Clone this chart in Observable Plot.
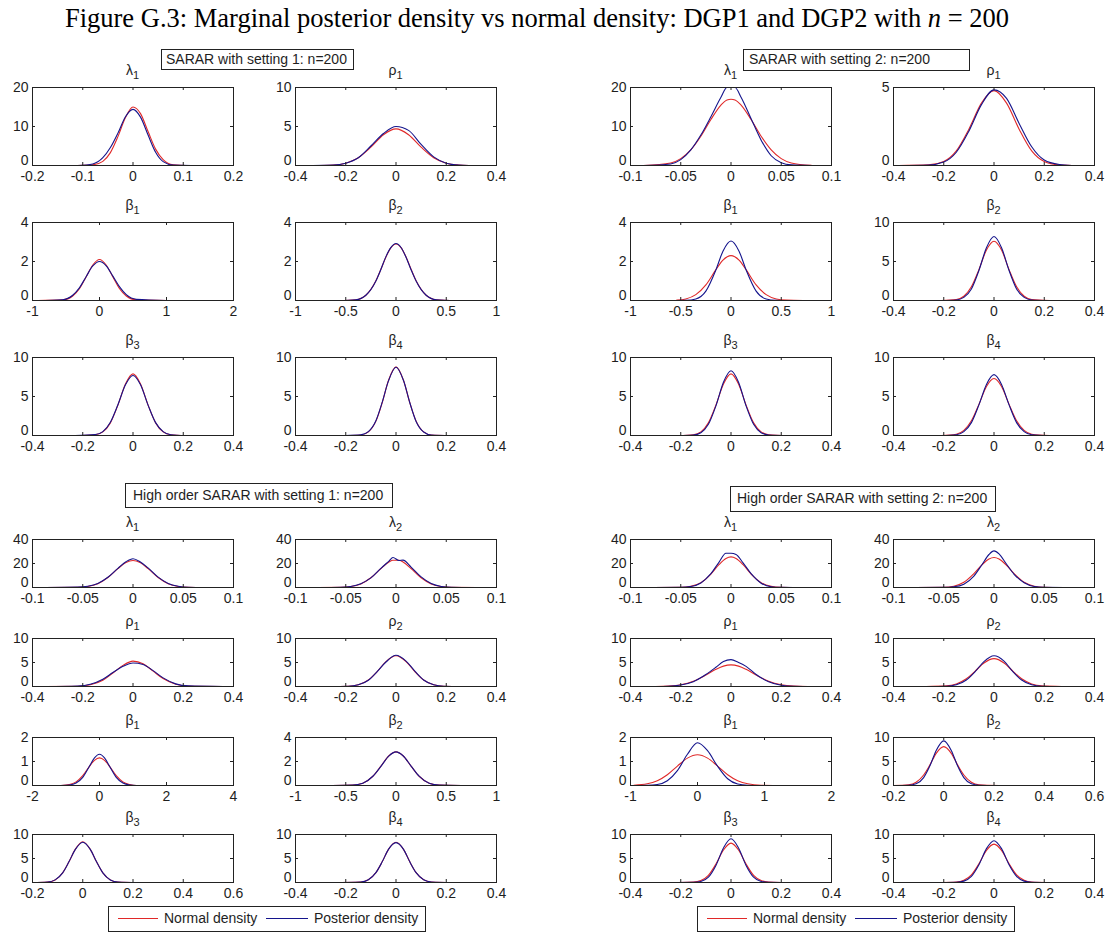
<!DOCTYPE html>
<html><head><meta charset="utf-8">
<script src="https://cdn.jsdelivr.net/npm/d3@7"></script>
<script src="https://cdn.jsdelivr.net/npm/@observablehq/plot@0.6"></script>
<style>
body{margin:0;background:#fff;}
#page{position:relative;width:1109px;height:934px;overflow:hidden;background:#fff;}
.panel{position:absolute;}
.panel svg{overflow:visible;background:none;}
#overlay{position:absolute;left:0;top:0;}
</style></head><body><div id="page"></div>
<script>
// ---------- DATA: rows are [x, normal density, posterior density] ----------
const sarar1_lambda1 = [[-0.11,0,0],[-0.08,0.15,0.4],[-0.06,1.06,2.0],[-0.045,3.3,4.6],[-0.03,7.4,8.3],[-0.015,12.3,12.5],[0,15,14.4],[0.015,13.3,12.4],[0.03,8.7,7.8],[0.045,4.2,3.4],[0.06,1.5,1.0],[0.08,0.2,0.1],[0.116,0,0]];
const sarar1_rho1 = [[-0.33,0,0],[-0.25,0.06,0.05],[-0.2,0.3,0.3],[-0.15,1.0,1.0],[-0.1,2.35,2.5],[-0.05,3.95,4.1],[0,4.7,5.0],[0.05,3.95,4.5],[0.1,2.35,2.7],[0.15,1.0,1.1],[0.2,0.3,0.3],[0.25,0.06,0.05],[0.29,0,0]];
const sarar1_beta1 = [[-0.92,0,0],[-0.55,0.03,0.04],[-0.4,0.23,0.27],[-0.3,0.6,0.65],[-0.2,1.21,1.22],[-0.1,1.82,1.77],[0,2.1,2.0],[0.1,1.82,1.78],[0.2,1.21,1.25],[0.3,0.6,0.7],[0.4,0.23,0.3],[0.55,0.03,0.06],[1.0,0,0]];
const sarar1_beta2 = [[-0.57,0,0],[-0.4,0.04,0.04],[-0.3,0.27,0.27],[-0.2,1.01,1.0],[-0.15,1.6,1.6],[-0.1,2.23,2.25],[-0.05,2.71,2.72],[0,2.9,2.92],[0.05,2.71,2.72],[0.1,2.23,2.22],[0.15,1.6,1.58],[0.2,1.01,1.0],[0.3,0.27,0.27],[0.4,0.04,0.04],[0.6,0,0]];
const sarar1_beta3 = [[-0.23,0,0],[-0.15,0.1,0.12],[-0.12,0.46,0.5],[-0.09,1.62,1.7],[-0.06,3.9,3.95],[-0.03,6.6,6.5],[0,7.9,7.7],[0.03,6.6,6.5],[0.06,3.9,3.9],[0.09,1.62,1.65],[0.12,0.46,0.5],[0.15,0.1,0.1],[0.21,0,0]];
const sarar1_beta4 = [[-0.2,0,0],[-0.14,0.07,0.08],[-0.11,0.46,0.5],[-0.08,1.84,1.9],[-0.055,4.2,4.25],[-0.03,7.05,7.0],[0,8.8,8.75],[0.03,7.05,7.05],[0.055,4.2,4.2],[0.08,1.84,1.8],[0.11,0.46,0.45],[0.14,0.07,0.07],[0.22,0,0]];

const sarar2_lambda1 = [[-0.087,0,0],[-0.06,0.66,0.4],[-0.05,1.76,1.5],[-0.04,4.0,4.0],[-0.03,7.5,7.8],[-0.02,11.8,12.5],[-0.01,15.5,17.5],[-0.004,16.8,20],[0,17,20],[0.004,16.8,20],[0.01,15.5,17.5],[0.02,11.8,12.0],[0.03,7.5,6.5],[0.04,4.0,2.5],[0.05,1.76,0.7],[0.06,0.66,0.15],[0.08,0.05,0]];
const sarar2_rho1 = [[-0.38,0,0],[-0.26,0.04,0.03],[-0.2,0.26,0.22],[-0.15,0.94,0.85],[-0.1,2.33,2.2],[-0.05,4.0,3.9],[0,4.8,4.85],[0.05,4.0,4.3],[0.1,2.33,2.7],[0.15,0.94,1.2],[0.2,0.26,0.35],[0.26,0.04,0.06],[0.31,0,0]];
const sarar2_beta1 = [[-0.54,0.02,0],[-0.45,0.08,0.01],[-0.35,0.3,0.08],[-0.25,0.8,0.48],[-0.15,1.58,1.57],[-0.08,2.07,2.53],[0,2.3,3.05],[0.08,2.07,2.53],[0.15,1.58,1.57],[0.25,0.8,0.48],[0.35,0.3,0.08],[0.45,0.08,0.01],[0.55,0.02,0],[0.72,0,0]];
const sarar2_beta2 = [[-0.21,0,0],[-0.15,0.13,0.07],[-0.12,0.55,0.4],[-0.09,1.76,1.48],[-0.06,3.96,3.85],[-0.03,6.47,6.77],[0,7.6,8.2],[0.03,6.47,6.77],[0.06,3.96,3.85],[0.09,1.76,1.48],[0.12,0.55,0.4],[0.15,0.13,0.07],[0.22,0,0]];
const sarar2_beta3 = [[-0.21,0,0],[-0.15,0.1,0.06],[-0.12,0.46,0.36],[-0.09,1.62,1.43],[-0.06,3.9,3.8],[-0.03,6.6,6.83],[0,7.9,8.3],[0.03,6.6,6.83],[0.06,3.9,3.8],[0.09,1.62,1.43],[0.12,0.46,0.36],[0.15,0.1,0.06],[0.23,0,0]];
const sarar2_beta4 = [[-0.21,0,0],[-0.15,0.17,0.1],[-0.12,0.66,0.49],[-0.09,1.88,1.65],[-0.06,3.99,3.93],[-0.03,6.28,6.55],[0,7.3,7.8],[0.03,6.28,6.55],[0.06,3.99,3.93],[0.09,1.88,1.65],[0.12,0.66,0.49],[0.15,0.17,0.1],[0.22,0,0]];

const high1_lambda1 = [[-0.087,0,0],[-0.055,0.18,0.3],[-0.045,0.9,1.0],[-0.035,3.2,3.3],[-0.025,8.3,8.5],[-0.015,15.7,16],[-0.007,20.8,21.5],[0,22.5,24],[0.007,20.8,21.5],[0.015,15.7,16.3],[0.025,8.3,8.6],[0.035,3.2,3.3],[0.045,0.9,1.0],[0.055,0.18,0.2],[0.073,0,0]];
const high1_lambda2 = [[-0.078,0,0],[-0.055,0.15,0.2],[-0.045,0.78,0.9],[-0.035,3.0,3.2],[-0.025,8.1,8.0],[-0.015,15.8,16],[-0.007,21.2,22],[-0.003,22.7,25],[0.003,22.7,22.5],[0.007,21.2,22.8],[0.015,15.8,17],[0.025,8.1,8.8],[0.035,3.0,3.3],[0.045,0.78,0.9],[0.055,0.15,0.2],[0.08,0,0]];
const high1_rho1 = [[-0.35,0,0],[-0.22,0.06,0.1],[-0.17,0.35,0.45],[-0.12,1.3,1.5],[-0.08,2.8,2.9],[-0.04,4.4,4.2],[0,5.29,4.9],[0.04,4.75,4.6],[0.08,3.2,3.3],[0.12,1.65,1.8],[0.17,0.47,0.55],[0.22,0.09,0.12],[0.36,0,0]];
const high1_rho2 = [[-0.27,0,0],[-0.19,0.06,0.06],[-0.15,0.35,0.35],[-0.11,1.34,1.3],[-0.075,3.1,3.1],[-0.04,5.2,5.1],[0,6.4,6.5],[0.04,5.2,5.3],[0.075,3.1,3.2],[0.11,1.34,1.35],[0.15,0.35,0.35],[0.19,0.06,0.06],[0.27,0,0]];
const high1_beta1 = [[-1.15,0,0],[-0.9,0.04,0.02],[-0.7,0.15,0.1],[-0.5,0.41,0.34],[-0.3,0.8,0.8],[-0.15,1.05,1.15],[0,1.15,1.3],[0.15,1.05,1.15],[0.3,0.8,0.8],[0.5,0.41,0.34],[0.7,0.15,0.1],[0.9,0.04,0.02],[1.1,0,0],[2.5,0,0]];
const high1_beta2 = [[-0.63,0,0],[-0.43,0.03,0.03],[-0.33,0.19,0.19],[-0.23,0.77,0.77],[-0.15,1.61,1.6],[-0.07,2.48,2.47],[0,2.8,2.8],[0.07,2.48,2.48],[0.15,1.61,1.62],[0.23,0.77,0.78],[0.33,0.19,0.19],[0.43,0.03,0.03],[0.65,0,0]];
const high1_beta3 = [[-0.2,0,0],[-0.14,0.1,0.1],[-0.11,0.54,0.55],[-0.08,2.0,2.0],[-0.055,4.3,4.3],[-0.03,6.9,6.85],[0,8.5,8.4],[0.03,6.9,6.9],[0.055,4.3,4.3],[0.08,2.0,2.0],[0.11,0.54,0.54],[0.14,0.1,0.1],[0.22,0,0]];
const high1_beta4 = [[-0.25,0,0],[-0.14,0.11,0.11],[-0.11,0.57,0.57],[-0.08,2.05,2.05],[-0.055,4.3,4.3],[-0.03,6.9,6.9],[0,8.4,8.3],[0.03,6.9,6.9],[0.055,4.3,4.3],[0.08,2.05,2.05],[0.11,0.57,0.57],[0.14,0.11,0.11],[0.23,0,0]];

const high2_lambda1 = [[-0.077,0,0],[-0.05,0.15,0.1],[-0.04,0.96,0.8],[-0.03,4.0,3.8],[-0.02,11.2,11.5],[-0.012,19,21],[-0.005,24.2,28.5],[0,25.5,28.5],[0.005,24.2,27.5],[0.012,19,20.5],[0.02,11.2,11.5],[0.03,4.0,3.6],[0.04,0.96,0.6],[0.05,0.15,0.1],[0.062,0,0]];
const high2_lambda2 = [[-0.078,0,0],[-0.05,0.19,0.1],[-0.04,1.1,0.6],[-0.03,4.3,2.8],[-0.02,11.5,9.5],[-0.012,18.9,19],[-0.005,23.8,27.5],[0,25,30.5],[0.005,23.8,28],[0.012,18.9,20],[0.02,11.5,11],[0.03,4.3,4],[0.04,1.1,0.9],[0.05,0.19,0.15],[0.07,0,0]];
const high2_rho1 = [[-0.3,0,0],[-0.25,0.08,0.05],[-0.2,0.36,0.3],[-0.15,1.08,1.0],[-0.1,2.38,2.5],[-0.06,3.58,4.0],[-0.03,4.25,5.2],[0,4.5,5.6],[0.03,4.25,5.0],[0.06,3.58,4.2],[0.1,2.38,2.5],[0.15,1.08,1.0],[0.2,0.36,0.25],[0.25,0.08,0.04],[0.305,0,0]];
const high2_rho2 = [[-0.27,0,0],[-0.19,0.13,0.06],[-0.15,0.54,0.35],[-0.11,1.6,1.34],[-0.075,3.2,3.1],[-0.04,4.9,5.2],[0,5.8,6.4],[0.04,4.9,5.3],[0.075,3.2,3.1],[0.11,1.6,1.34],[0.15,0.54,0.35],[0.19,0.13,0.06],[0.27,0,0]];
const high2_beta1 = [[-0.95,0.013,0],[-0.75,0.07,0.005],[-0.6,0.2,0.04],[-0.45,0.45,0.2],[-0.3,0.81,0.62],[-0.15,1.14,1.3],[0,1.28,1.78],[0.15,1.14,1.45],[0.3,0.81,0.8],[0.45,0.45,0.28],[0.6,0.2,0.06],[0.75,0.07,0.01],[0.95,0.013,0],[1.35,0,0]];
const high2_beta2 = [[-0.2,0,0],[-0.14,0.14,0.05],[-0.11,0.67,0.35],[-0.08,2.18,1.65],[-0.055,4.3,4.1],[-0.03,6.7,7.3],[0,8.1,9.3],[0.03,6.7,7.3],[0.055,4.3,4.1],[0.08,2.18,1.65],[0.11,0.67,0.35],[0.14,0.14,0.05],[0.22,0,0]];
const high2_beta3 = [[-0.21,0,0],[-0.15,0.07,0.03],[-0.12,0.4,0.21],[-0.09,1.48,1.1],[-0.06,3.85,3.56],[-0.03,6.77,7.2],[0,8.2,9.1],[0.03,6.77,7.2],[0.06,3.85,3.56],[0.09,1.48,1.1],[0.12,0.4,0.21],[0.15,0.07,0.03],[0.2,0,0]];
const high2_beta4 = [[-0.21,0,0],[-0.15,0.09,0.04],[-0.12,0.45,0.29],[-0.09,1.58,1.27],[-0.06,3.9,3.7],[-0.03,6.7,7.05],[0,8.0,8.7],[0.03,6.7,7.05],[0.06,3.9,3.7],[0.09,1.58,1.27],[0.12,0.45,0.29],[0.15,0.09,0.04],[0.21,0,0]];

// tick label sets
const ticksL1 = [-0.2,-0.1,0,0.1,0.2];
const ticksL05 = [-0.1,-0.05,0,0.05,0.1];
const ticksR4 = [-0.4,-0.2,0,0.2,0.4];
const ticksB1 = [-1,-0.5,0,0.5,1];
const ticksB12 = [-1,0,1,2];
const ticksB24 = [-2,0,2,4];
const ticksB26 = [-0.2,0,0.2,0.4,0.6];

const groupTitles = ["SARAR with setting 1: n=200","SARAR with setting 2: n=200","High order SARAR with setting 1: n=200","High order SARAR with setting 2: n=200"];
const legendLabels = ["Normal density","Posterior density"];
const figureTitle = "Figure G.3: Marginal posterior density vs normal density: DGP1 and DGP2 with ";

const sarar1Panels = [
  {sym:"λ",sub:"1",data:sarar1_lambda1,xt:ticksL1,yt:[0,10,20]},
  {sym:"ρ",sub:"1",data:sarar1_rho1,xt:ticksR4,yt:[0,5,10]},
  {sym:"β",sub:"1",data:sarar1_beta1,xt:ticksB12,yt:[0,2,4]},
  {sym:"β",sub:"2",data:sarar1_beta2,xt:ticksB1,yt:[0,2,4]},
  {sym:"β",sub:"3",data:sarar1_beta3,xt:ticksR4,yt:[0,5,10]},
  {sym:"β",sub:"4",data:sarar1_beta4,xt:ticksR4,yt:[0,5,10]}];
const sarar2Panels = [
  {sym:"λ",sub:"1",data:sarar2_lambda1,xt:ticksL05,yt:[0,10,20]},
  {sym:"ρ",sub:"1",data:sarar2_rho1,xt:ticksR4,yt:[0,5]},
  {sym:"β",sub:"1",data:sarar2_beta1,xt:ticksB1,yt:[0,2,4]},
  {sym:"β",sub:"2",data:sarar2_beta2,xt:ticksR4,yt:[0,5,10]},
  {sym:"β",sub:"3",data:sarar2_beta3,xt:ticksR4,yt:[0,5,10]},
  {sym:"β",sub:"4",data:sarar2_beta4,xt:ticksR4,yt:[0,5,10]}];
const high1Panels = [
  {sym:"λ",sub:"1",data:high1_lambda1,xt:ticksL05,yt:[0,20,40]},
  {sym:"λ",sub:"2",data:high1_lambda2,xt:ticksL05,yt:[0,20,40]},
  {sym:"ρ",sub:"1",data:high1_rho1,xt:ticksR4,yt:[0,5,10]},
  {sym:"ρ",sub:"2",data:high1_rho2,xt:ticksR4,yt:[0,5,10]},
  {sym:"β",sub:"1",data:high1_beta1,xt:ticksB24,yt:[0,1,2]},
  {sym:"β",sub:"2",data:high1_beta2,xt:ticksB1,yt:[0,2,4]},
  {sym:"β",sub:"3",data:high1_beta3,xt:ticksB26,yt:[0,5,10]},
  {sym:"β",sub:"4",data:high1_beta4,xt:ticksR4,yt:[0,5,10]}];
const high2Panels = [
  {sym:"λ",sub:"1",data:high2_lambda1,xt:ticksL05,yt:[0,20,40]},
  {sym:"λ",sub:"2",data:high2_lambda2,xt:ticksL05,yt:[0,20,40]},
  {sym:"ρ",sub:"1",data:high2_rho1,xt:ticksR4,yt:[0,5,10]},
  {sym:"ρ",sub:"2",data:high2_rho2,xt:ticksR4,yt:[0,5,10]},
  {sym:"β",sub:"1",data:high2_beta1,xt:ticksB12,yt:[0,1,2]},
  {sym:"β",sub:"2",data:high2_beta2,xt:ticksB26,yt:[0,5,10]},
  {sym:"β",sub:"3",data:high2_beta3,xt:ticksR4,yt:[0,5,10]},
  {sym:"β",sub:"4",data:high2_beta4,xt:ticksR4,yt:[0,5,10]}];

// ---------- LAYOUT / STYLE ----------
const RED = "#e02828", BLUE = "#14148c", AX = "#222", TXT = "#1e1e1e";
const SANS = "'Liberation Sans', Arial, Helvetica, sans-serif";
const colLeft = [32, 295, 630, 893], frameW = 201;
const topRows = [87, 222, 357], topH = 78;
const botRows = [539, 638, 737, 834], botH = 48;
const ML = 40, MR = 14, MT = 4, MB = 24;
const fmt = d => String(d);

const page = document.getElementById("page");
const titleSpecs = [];

function drawPanel(p, left, top, w, h) {
  const xd = [p.xt[0], p.xt[p.xt.length-1]];
  const yd = [p.yt[0], p.yt[p.yt.length-1]];
  const svg = Plot.plot({
    width: w + ML + MR, height: h + MT + MB,
    marginLeft: ML, marginRight: MR, marginTop: MT, marginBottom: MB,
    style: {fontFamily: SANS, fontSize: "14px", color: TXT, background: "none", overflow: "visible"},
    x: {domain: xd, ticks: p.xt, tickFormat: fmt},
    y: {domain: yd, ticks: p.yt, tickFormat: fmt},
    marks: [
      Plot.line(p.data, {x: d => d[0], y: d => d[1], stroke: RED, strokeWidth: 1.1, curve: "monotone-x"}),
      Plot.line(p.data, {x: d => d[0], y: d => d[2], stroke: BLUE, strokeWidth: 1.1, curve: "monotone-x"}),
      Plot.ruleX(p.xt, {x: d => d, insetTop: h - 3, stroke: AX}),
      Plot.ruleX(p.xt, {x: d => d, insetBottom: h - 3, stroke: AX}),
      Plot.ruleY(p.yt, {y: d => d, insetRight: w - 3, stroke: AX}),
      Plot.ruleY(p.yt, {y: d => d, insetLeft: w - 3, stroke: AX}),
      Plot.frame({stroke: AX}),
      Plot.axisX(p.xt, {tickSize: 0, tickPadding: 6, tickFormat: fmt, label: null, fill: TXT}),
      Plot.axisY(p.yt.slice(0, 1), {tickSize: 0, tickPadding: 4, tickFormat: fmt, label: null, fill: TXT, dy: -5}),
      Plot.axisY(p.yt.slice(1), {tickSize: 0, tickPadding: 4, tickFormat: fmt, label: null, fill: TXT})
    ]
  });
  const div = document.createElement("div");
  div.className = "panel";
  div.style.left = (left - ML) + "px";
  div.style.top = (top - MT) + "px";
  div.style.width = (w + ML + MR) + "px";
  div.appendChild(svg);
  page.appendChild(div);
  titleSpecs.push({sym: p.sym, sub: p.sub, x: left + w / 2, y: top - 12});
}

function drawGroup(panels, cols, rows, h) {
  panels.forEach((p, i) => drawPanel(p, colLeft[cols[i % 2]], rows[Math.floor(i / 2)], frameW, h));
}
drawGroup(sarar1Panels, [0, 1], topRows, topH);
drawGroup(sarar2Panels, [2, 3], topRows, topH);
drawGroup(high1Panels, [0, 1], botRows, botH);
drawGroup(high2Panels, [2, 3], botRows, botH);

// ---------- OVERLAY TEXT ----------
const ov = d3.select(page).append("svg").attr("id", "overlay")
  .attr("width", 1109).attr("height", 934).style("pointer-events", "none");

const t = ov.append("text").attr("x", 537).attr("y", 27).attr("text-anchor", "middle")
  .attr("font-family", "'Liberation Serif', 'Times New Roman', serif").attr("font-size", 26.5).attr("fill", "#000");
t.append("tspan").text(figureTitle);
t.append("tspan").attr("font-style", "italic").text("n");
t.append("tspan").text(" = 200");

titleSpecs.forEach(s => {
  const tt = ov.append("text").attr("x", s.x).attr("y", s.y).attr("text-anchor", "middle")
    .attr("font-family", SANS).attr("font-size", 14).attr("fill", TXT);
  tt.append("tspan").text(s.sym);
  tt.append("tspan").attr("dy", 4).attr("font-size", 11).text(s.sub);
});

const boxes = [
  {x: 161, y: 49, w: 192, h: 20, tx: 166, ty: 64},
  {x: 743, y: 49, w: 226, h: 21, tx: 749, ty: 64},
  {x: 125, y: 483, w: 267, h: 24, tx: 133, ty: 500},
  {x: 730, y: 486, w: 265, h: 25, tx: 737, ty: 503}];
boxes.forEach((b, i) => {
  ov.append("rect").attr("x", b.x + 0.5).attr("y", b.y + 0.5).attr("width", b.w).attr("height", b.h)
    .attr("fill", "#fff").attr("stroke", AX);
  ov.append("text").attr("x", b.tx).attr("y", b.ty).attr("font-family", SANS).attr("font-size", 14)
    .attr("fill", TXT).text(groupTitles[i]);
});

[108, 697].forEach(lx => {
  const y = 906;
  ov.append("rect").attr("x", lx + 0.5).attr("y", y + 0.5).attr("width", 317).attr("height", 25)
    .attr("fill", "#fff").attr("stroke", AX);
  ov.append("line").attr("x1", lx + 10).attr("x2", lx + 50).attr("y1", y + 12.5).attr("y2", y + 12.5)
    .attr("stroke", RED).attr("stroke-width", 1.1);
  ov.append("text").attr("x", lx + 56).attr("y", y + 17).attr("font-family", SANS).attr("font-size", 14)
    .attr("fill", TXT).text(legendLabels[0]);
  ov.append("line").attr("x1", lx + 158).attr("x2", lx + 200).attr("y1", y + 12.5).attr("y2", y + 12.5)
    .attr("stroke", BLUE).attr("stroke-width", 1.1);
  ov.append("text").attr("x", lx + 206).attr("y", y + 17).attr("font-family", SANS).attr("font-size", 14)
    .attr("fill", TXT).text(legendLabels[1]);
});
</script></body></html>
